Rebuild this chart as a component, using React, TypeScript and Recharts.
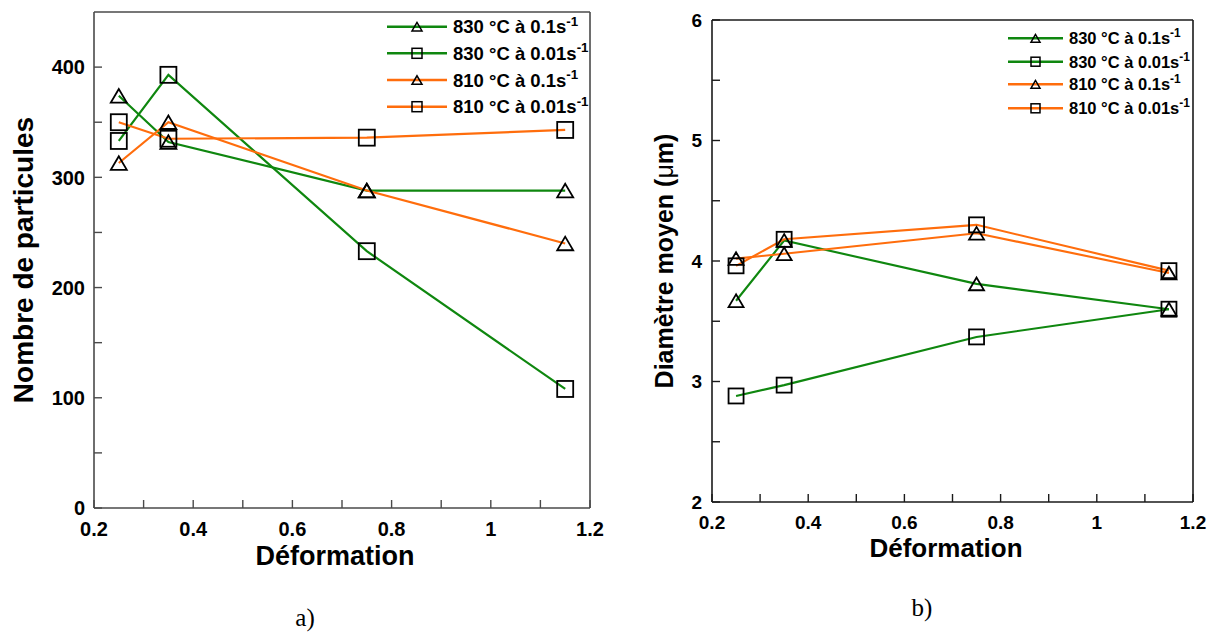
import React from 'react'
import { LineChart, Line, XAxis, YAxis, Legend } from 'recharts'

const FONT = '"Liberation Sans", Arial, Helvetica, sans-serif'
const GREEN = '#0f870f'
const ORANGE = '#ff6d0c'

const deformation = [0.25, 0.35, 0.75, 1.15]

// a) nombre de particules
const nb830Fast = [374, 332, 288, 288]
const nb830Slow = [333, 393, 233, 108]
const nb810Fast = [313, 350, 288, 240]
const nb810Slow = [350, 335, 336, 343]

// b) diamètre moyen (µm)
const dm830Fast = [3.67, 4.17, 3.81, 3.6]
const dm830Slow = [2.88, 2.97, 3.37, 3.6]
const dm810Fast = [4.02, 4.06, 4.23, 3.9]
const dm810Slow = [3.96, 4.18, 4.3, 3.92]

const seriesKeys = ['s830Fast', 's830Slow', 's810Fast', 's810Slow']
const seriesNames = ['830 °C à 0.1s', '830 °C à 0.01s', '810 °C à 0.1s', '810 °C à 0.01s']
const seriesColors = [GREEN, GREEN, ORANGE, ORANGE]
const seriesShapes = ['triangle', 'square', 'triangle', 'square']

const xTicks = [0.2, 0.3, 0.4, 0.5, 0.6, 0.7, 0.8, 0.9, 1, 1.1, 1.2]
const xTickLabels = ['0.2', '', '0.4', '', '0.6', '', '0.8', '', '1', '', '1.2']

const nbTicks = [0, 50, 100, 150, 200, 250, 300, 350, 400]
const nbTickLabels = ['0', '', '100', '', '200', '', '300', '', '400']

const dmTicks = [2, 2.5, 3, 3.5, 4, 4.5, 5, 5.5, 6]
const dmTickLabels = ['2', '', '3', '', '4', '', '5', '', '6']

const nbData = deformation.map((d, i) => ({
  d,
  s830Fast: nb830Fast[i],
  s830Slow: nb830Slow[i],
  s810Fast: nb810Fast[i],
  s810Slow: nb810Slow[i],
}))

const dmData = deformation.map((d, i) => ({
  d,
  s830Fast: dm830Fast[i],
  s830Slow: dm830Slow[i],
  s810Fast: dm810Fast[i],
  s810Slow: dm810Slow[i],
}))

function Marker({ cx, cy, shape, size, sw = 1.8 }: any) {
  if (cx == null || cy == null) return null
  if (shape === 'square') {
    return (
      <rect x={cx - size / 2} y={cy - size / 2} width={size} height={size}
        fill='none' stroke='#000' strokeWidth={sw} />
    )
  }
  const h = size * 0.85
  return (
    <polygon
      points={`${cx},${cy - h / 2} ${cx - size / 2},${cy + h / 2} ${cx + size / 2},${cy + h / 2}`}
      fill='none' stroke='#000' strokeWidth={sw} strokeLinejoin='miter' />
  )
}

function LegendBox({ rowY, x0, lineLen, fontSize, markerSize, width, height }: any) {
  return (
    <svg width={width} height={height} style={{ display: 'block', overflow: 'visible' }}>
      {seriesNames.map((name, i) => (
        <g key={name}>
          <line x1={x0} x2={x0 + lineLen} y1={rowY[i]} y2={rowY[i]} stroke={seriesColors[i]} strokeWidth={2.4} />
          <Marker cx={x0 + lineLen / 2} cy={rowY[i]} shape={seriesShapes[i]} size={markerSize} sw={1.5} />
          <text x={x0 + lineLen + 6} y={rowY[i] + fontSize * 0.36} fontFamily={FONT} fontWeight='bold'
            fontSize={fontSize} fill='#000'>
            {name}
            <tspan dy={-fontSize * 0.42} fontSize={fontSize * 0.72}>-1</tspan>
          </text>
        </g>
      ))}
    </svg>
  )
}

const AXIS_W = 40
const AXIS_H = 30

function Panel(props: any) {
  const { data, left, width, height, plot, yDomain, yTicks, yTickLabels, frame,
    markerSize, lineWidth, tickFont, xLabelDy, yLabelDx, legend } = props
  const plotLeft = plot.left
  const plotBottom = plot.bottom
  const margin = {
    top: plot.top - 2,
    left: plot.left - AXIS_W,
    right: width - plot.right - 2,
    bottom: height - plot.bottom - AXIS_H,
  }

  const xTick = (p: any) => {
    const x = p.payload.coordinate
    const label = xTickLabels[xTicks.indexOf(p.payload.value)]
    return (
      <g>
        <line x1={x} x2={x} y1={plotBottom} y2={plotBottom - 8} stroke={frame} strokeWidth={1.4} />
        {label ? (
          <text x={x} y={plotBottom + xLabelDy} textAnchor='middle' fontFamily={FONT}
            fontWeight='bold' fontSize={tickFont} fill='#000'>{label}</text>
        ) : null}
      </g>
    )
  }

  const yTick = (p: any) => {
    const y = p.payload.coordinate
    const label = yTickLabels[yTicks.indexOf(p.payload.value)]
    return (
      <g>
        <line x1={plotLeft} x2={plotLeft + 8} y1={y} y2={y} stroke={frame} strokeWidth={1.4} />
        {label ? (
          <text x={plotLeft - yLabelDx} y={y + tickFont * 0.36} textAnchor='end' fontFamily={FONT}
            fontWeight='bold' fontSize={tickFont} fill='#000'>{label}</text>
        ) : null}
      </g>
    )
  }

  return (
    <div style={{ position: 'absolute', left, top: 0 }}>
      <LineChart width={width} height={height} data={data} margin={margin}>
        <XAxis dataKey='d' type='number' domain={[0.2, 1.2]} ticks={xTicks} interval={0}
          allowDataOverflow height={AXIS_H} tickLine={false}
          axisLine={{ stroke: frame, strokeWidth: 1.6 }} tick={xTick} />
        <XAxis xAxisId='top' orientation='top' type='number' domain={[0.2, 1.2]} height={2}
          tick={false} tickLine={false} axisLine={{ stroke: frame, strokeWidth: 1.6 }} />
        <YAxis type='number' domain={yDomain} ticks={yTicks} interval={0} allowDataOverflow
          width={AXIS_W} tickLine={false} axisLine={{ stroke: frame, strokeWidth: 1.6 }} tick={yTick} />
        <YAxis yAxisId='right' orientation='right' type='number' domain={yDomain} width={2}
          tick={false} tickLine={false} axisLine={{ stroke: frame, strokeWidth: 1.6 }} />
        <Legend layout='vertical' align='center' verticalAlign='middle'
          wrapperStyle={{ left: legend.left, top: legend.top, width: legend.width, height: legend.height }}
          content={() => <LegendBox {...legend} />} />
        {seriesKeys.map((key, i) => (
          <Line key={key} dataKey={key} name={seriesNames[i]} stroke={seriesColors[i]}
            strokeWidth={lineWidth} isAnimationActive={false} activeDot={false}
            dot={(p: any) => (
              <Marker key={`${key}-${p.index}`} cx={p.cx} cy={p.cy} shape={seriesShapes[i]} size={markerSize} />
            )} />
        ))}
      </LineChart>
    </div>
  )
}

export default function App() {
  return (
    <div style={{ position: 'absolute', left: 0, top: 0, width: 1213, height: 632, background: '#fff' }}>
      <Panel
        data={nbData} left={0} width={612} height={632}
        plot={{ left: 94, right: 590, top: 12, bottom: 508 }}
        yDomain={[0, 450]} yTicks={nbTicks} yTickLabels={nbTickLabels}
        frame='#4a4a4a' markerSize={16} lineWidth={2.2} tickFont={20} xLabelDy={28} yLabelDx={9}
        legend={{ left: 380, top: 12, width: 220, height: 110, x0: 7, lineLen: 60,
          rowY: [14.7, 41.3, 68, 94.7], fontSize: 18.5, markerSize: 10 }}
      />
      <Panel
        data={dmData} left={612} width={601} height={632}
        plot={{ left: 100, right: 581, top: 20, bottom: 502 }}
        yDomain={[2, 6]} yTicks={dmTicks} yTickLabels={dmTickLabels}
        frame='#1a1a1a' markerSize={15} lineWidth={2.1} tickFont={19} xLabelDy={27} yLabelDx={10}
        legend={{ left: 390, top: 25, width: 210, height: 100, x0: 6, lineLen: 55,
          rowY: [13.3, 36.7, 59.3, 83.3], fontSize: 16.5, markerSize: 9 }}
      />
      <svg width={1213} height={632} style={{ position: 'absolute', left: 0, top: 0, pointerEvents: 'none' }}>
        <text x={335} y={565} textAnchor='middle' fontFamily={FONT} fontWeight='bold' fontSize={27}>Déformation</text>
        <text transform='translate(32.5,260) rotate(-90)' textAnchor='middle' fontFamily={FONT}
          fontWeight='bold' fontSize={28}>Nombre de particules</text>
        <text x={946} y={557} textAnchor='middle' fontFamily={FONT} fontWeight='bold' fontSize={26}>Déformation</text>
        <text transform='translate(673,261) rotate(-90)' textAnchor='middle' fontFamily={FONT}
          fontWeight='bold' fontSize={25}>
          Diamètre moyen (<tspan fontWeight='normal'>μ</tspan>m)
        </text>
        <text x={305} y={626} textAnchor='middle' fontFamily='"Liberation Serif", "Times New Roman", serif'
          fontSize={25}>a)</text>
        <text x={922} y={616} textAnchor='middle' fontFamily='"Liberation Serif", "Times New Roman", serif'
          fontSize={25}>b)</text>
      </svg>
    </div>
  )
}
